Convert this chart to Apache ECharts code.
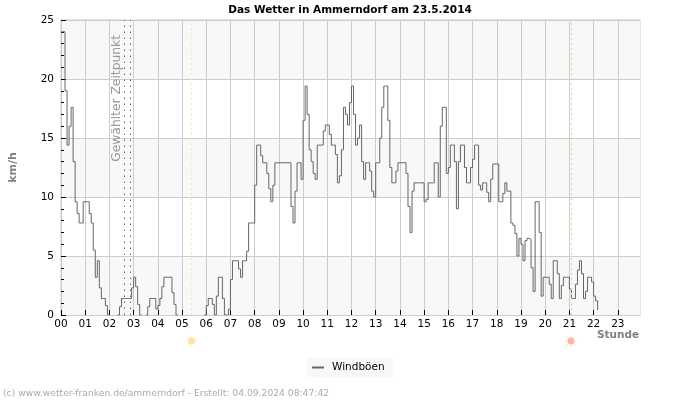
<!DOCTYPE html>
<html>
<head>
<meta charset="utf-8">
<title>Das Wetter in Ammerndorf</title>
<style>
  html, body { margin: 0; padding: 0; background: #fff; }
  #chart { width: 700px; height: 400px; }
</style>
</head>
<body>
<div id="chart"></div>
<script src="https://cdn.jsdelivr.net/npm/echarts@6/dist/echarts.min.js"></script>
<script>
// x axis runs in 5 minute slots, 12 per hour
const slotsPerHour = 12;
const hourLabels = ["00", "01", "02", "03", "04", "05", "06", "07", "08", "09", "10", "11",
  "12", "13", "14", "15", "16", "17", "18", "19", "20", "21", "22", "23"];
const yTicks = [0, 5, 10, 15, 20, 25];

// Windböen in km/h, one row per hour
const windValues = [
  24, 24, 19, 14.4, 16, 17.6, 13, 9.6, 8.6, 7.8, 7.8, 9.6,
  9.6, 9.6, 8.6, 7.8, 5.5, 3.2, 4.6, 2.3, 1.4, 1.4, 0.8, 0,
  null, null, null, null, 0, 0.7, 1.4, 1.4, 1.4, 1.4, 1.4, 2.3,
  3.2, 2.4, 0.9, 0, null, null, 0, 0.7, 1.4, 1.4, 1.4, 0.5,
  0.8, 1.4, 2.4, 3.2, 3.2, 3.2, 3.2, 1.9, 0.9, 0, null, null,
  null, null, null, null, null, null, null, null, null, null, null, 0,
  0.8, 1.4, 1.4, 0.9, 0, 1.6, 3.2, 3.2, 1.4, 0, 0, 0.5,
  3, 4.6, 4.6, 4.6, 3.9, 3.2, 4.6, 4.6, 5.4, 7.8, 7.8, 7.8,
  11, 14.4, 14.4, 13.5, 12.9, 12.9, 12, 10.7, 9.6, 11, 12.9, 12.9,
  12.9, 12.9, 12.9, 12.9, 12.9, 12.9, 9.2, 7.8, 10.5, 12.9, 12.9, 11.5,
  16.5, 19.4, 17, 14, 13, 12, 11.5, 14.4, 14.4, 14.4, 15.6, 16.1,
  16.1, 15.3, 14.4, 14.4, 13.6, 11.2, 11.8, 14, 17.6, 17, 16.1, 18,
  19.4, 17, 14.4, 15, 16.1, 13, 11.5, 12.9, 12.9, 12.2, 10.5, 10,
  12.9, 12.9, 15, 17.6, 19.4, 19.4, 16.5, 12.5, 11.2, 11.2, 12.2, 12.9,
  12.9, 12.9, 12.9, 12, 9.2, 7, 10.5, 11.2, 11.2, 11.2, 11.2, 11.2,
  9.6, 9.8, 11.2, 11.2, 11.2, 12.9, 12.9, 10, 16, 17.6, 17.6, 12,
  12.5, 14.4, 14.4, 13, 9, 13, 14.4, 14.4, 12.5, 11.2, 11.2, 12.5,
  13.2, 14.4, 14.4, 11, 10.6, 11.2, 11.2, 10.4, 9.6, 11.5, 12.8, 12.8,
  12.8, 9.6, 9.6, 10.3, 11.2, 10.5, 10.5, 7.8, 7.6, 6.9, 5, 6.5,
  6, 4.6, 6.3, 6.5, 6.4, 4, 2, 9.6, 9.6, 7, 1.6, 3.2,
  3.2, 3.2, 2.6, 1.4, 4.6, 4.6, 3.5, 1.4, 2.5, 3.2, 3.2, 3.2,
  2.2, 1.4, 1.4, 2.6, 3.8, 4.6, 3.5, 1.4, 2, 3.2, 3.2, 2.8,
  1.6, 1.2, 0.4
];

// vertical markers, in slots
const selectedSlots = [31.2, 34.1];
const sunriseSlot = 64.7;
const sunsetSlot = 252.8;

const fontName = "DejaVu Sans";
const hourTicks = hourLabels.map((_, i) => i * slotsPerHour);
const myChart = echarts.init(document.getElementById("chart"), null, { renderer: "canvas" });

const option = {
  animation: false,
  backgroundColor: "#fff",
  textStyle: { fontFamily: fontName },
  title: {
    text: "Das Wetter in Ammerndorf am 23.5.2014",
    left: "center",
    top: 0,
    textStyle: { fontFamily: fontName, fontSize: 10.5, fontWeight: "bold", color: "#000" },
  },
  grid: {
    left: 60,
    top: 20,
    width: 580,
    height: 295,
    show: true,
    borderColor: "#ccc",
    borderWidth: 1,
    backgroundColor: "transparent",
  },
  legend: {
    data: ["Windböen"],
    left: 307,
    top: 358,
    backgroundColor: "#f8f8f8",
    padding: [4, 9, 4, 5],
    icon: "rect",
    itemWidth: 12,
    itemHeight: 2,
    itemGap: 0,
    textStyle: { fontFamily: fontName, fontSize: 10.5, color: "#000", padding: [0, 0, 0, 3] },
  },
  xAxis: {
    type: "value",
    min: 0,
    max: 287,
    interval: slotsPerHour,
    name: "Stunde",
    nameLocation: "end",
    nameGap: -43,
    nameTextStyle: {
      fontFamily: fontName,
      fontSize: 10.5,
      fontWeight: "bold",
      color: "#808080",
      verticalAlign: "top",
      padding: [15, 0, 0, 0],
    },
    axisLine: { show: true, lineStyle: { color: "#ccc" } },
    axisTick: {
      show: true,
      inside: true,
      length: 5,
      customValues: hourTicks,
      lineStyle: { color: "#000" },
    },
    axisLabel: {
      color: "#000",
      fontFamily: fontName,
      fontSize: 10.5,
      margin: 4,
      customValues: hourTicks,
      formatter: (value) => hourLabels[value / slotsPerHour] || "",
    },
    splitLine: { show: true, lineStyle: { color: "#ccc" } },
  },
  yAxis: {
    type: "value",
    min: yTicks[0],
    max: yTicks[yTicks.length - 1],
    interval: 5,
    name: "km/h",
    nameLocation: "middle",
    nameGap: 42,
    nameTextStyle: { fontFamily: fontName, fontSize: 11, fontWeight: "bold", color: "#808080" },
    axisLine: { show: true, lineStyle: { color: "#ccc" } },
    axisTick: { show: true, inside: true, length: 5, lineStyle: { color: "#000" } },
    minorTick: { show: true, splitNumber: 5, length: 3, lineStyle: { color: "#000" } },
    axisLabel: { color: "#000", fontFamily: fontName, fontSize: 10.5, margin: 7 },
    splitLine: { show: true, lineStyle: { color: "#ccc" } },
    splitArea: { show: true, areaStyle: { color: ["#f8f8f8", "#fff"] } },
  },
  series: [
    {
      name: "Windböen",
      type: "line",
      step: "end",
      showSymbol: false,
      connectNulls: false,
      itemStyle: { color: "#666" },
      lineStyle: { color: "#666", width: 1 },
      data: windValues.map((v, i) => [i, v]),
      markLine: {
        silent: true,
        symbol: "none",
        animation: false,
        data: [
          {
            xAxis: selectedSlots[0],
            lineStyle: { color: "#666", type: [1.5, 4.5], width: 1 },
            label: {
              show: true,
              formatter: "Gewählter Zeitpunkt",
              position: "insideEndTop",
              distance: [15, 1],
              fontFamily: fontName,
              fontSize: 12.3,
              color: "#999",
            },
          },
          {
            xAxis: selectedSlots[1],
            lineStyle: { color: "#666", type: [1.5, 4.5], width: 1 },
            label: { show: false },
          },
          {
            xAxis: sunriseSlot,
            lineStyle: { color: "#f3eca6", type: [2, 3], width: 1 },
            label: { show: false },
          },
          {
            xAxis: sunsetSlot,
            lineStyle: { color: "#f5c98a", type: [2, 3], width: 1 },
            label: { show: false },
          },
        ],
      },
    },
  ],
};

myChart.setOption(option);

// sun symbol under the axis: disc with eight short rays
const sunMark = (slot, color, rayColor) => {
  const cx = myChart.convertToPixel({ xAxisIndex: 0 }, slot);
  const cy = 341;
  const parts = [];
  for (let k = 0; k < 8; k += 1) {
    const a = (k * Math.PI) / 4;
    parts.push({
      type: "line",
      shape: {
        x1: cx + 3.5 * Math.cos(a),
        y1: cy + 3.5 * Math.sin(a),
        x2: cx + 6 * Math.cos(a),
        y2: cy + 6 * Math.sin(a),
      },
      style: { stroke: rayColor, lineWidth: 1 },
    });
  }
  parts.push({ type: "circle", shape: { cx, cy, r: 3.4 }, style: { fill: color } });
  return { type: "group", children: parts };
};

myChart.setOption({
  graphic: [
    sunMark(sunriseSlot, "#fde49a", "#fdeec4"),
    sunMark(sunsetSlot, "#ffb6a0", "#ffd8cc"),
    {
      type: "text",
      x: 3,
      y: 393.5,
      style: {
        text: "(c) www.wetter-franken.de/ammerndorf - Erstellt: 04.09.2024 08:47:42",
        fontFamily: fontName,
        fontSize: 9.2,
        fill: "#aaa",
        verticalAlign: "middle",
      },
    },
  ],
});
</script>
</body>
</html>
